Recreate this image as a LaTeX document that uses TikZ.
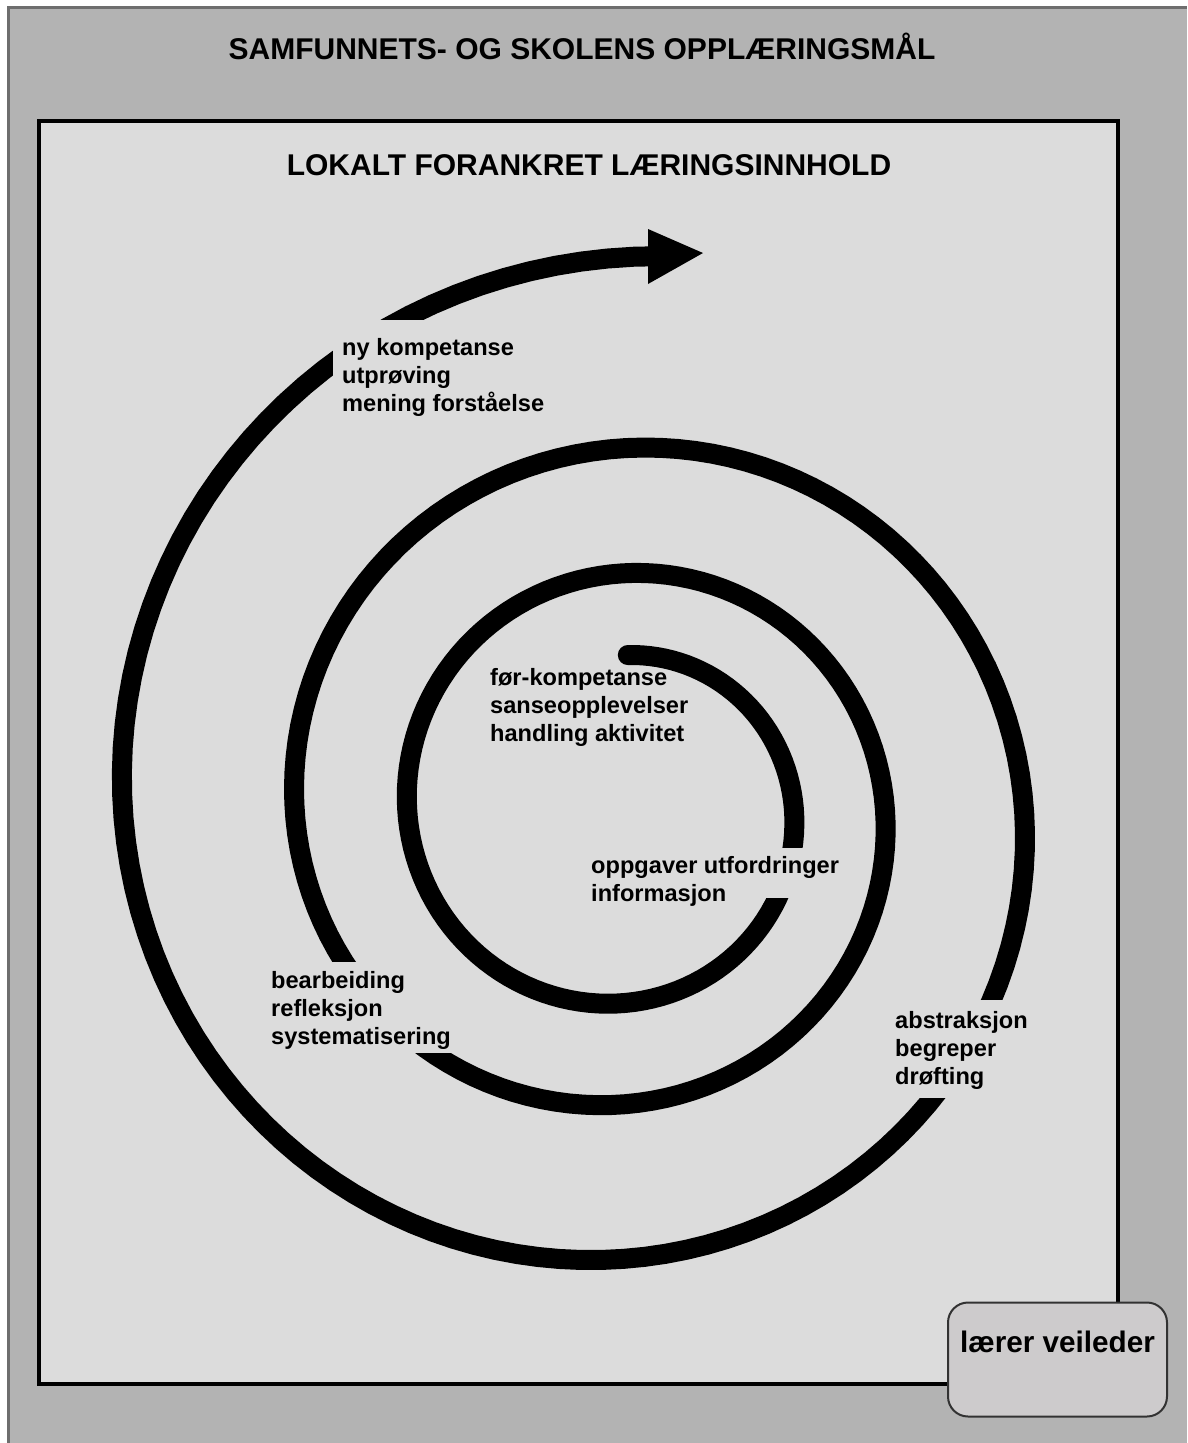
\documentclass[tikz,border=0pt]{standalone}
\usepackage{fontspec}
\setmainfont{Liberation Sans}
\definecolor{outerbg}{RGB}{179,179,179}
\definecolor{innerbg}{RGB}{220,220,220}
\definecolor{boxbg}{RGB}{205,203,204}
\definecolor{frameline}{RGB}{110,110,110}
\definecolor{boxline}{RGB}{50,50,50}
\begin{document}
\begin{tikzpicture}[x=1pt,y=-1pt,
  declare function={sr(\t)=173*exp(-0.0011816*\t);},
  lbl/.style={anchor=base west, inner sep=0pt, align=left, font=\fontsize{23.6}{28}\selectfont\bfseries},
  ttl/.style={anchor=base, inner sep=0pt, font=\fontsize{30}{34}\selectfont\bfseries},
  spiralline/.style={line width=20pt, line cap=round},
  cover/.style={fill=innerbg},
  lvbox/.style={draw=boxline, line width=2pt, fill=boxbg, rounded corners=20pt,
    minimum width=219pt, minimum height=114pt, inner sep=0pt,
    font=\fontsize{29.7}{34}\selectfont\bfseries, text height=22pt, text depth=37pt}]
\useasboundingbox (0,0) rectangle (1187,1443);
\fill[white] (0,0) rectangle (1187,1443);
\fill[outerbg] (8,7) rectangle (1187,1443);
\draw[frameline, line width=3pt] (8,1443) -- (8,7) -- (1187,7);
\draw[black, line width=4pt, fill=innerbg] (39,121) rectangle (1118,1384);
\node[ttl] (outertitle) at (582,59) {SAMFUNNETS- OG SKOLENS OPPLÆRINGSMÅL};
\node[ttl] (innertitle) at (589,175) {LOKALT FORANKRET LÆRINGSINNHOLD};
% spiral
\draw[spiralline] plot[domain=87.5:-994, samples=400] ({621+sr(\x)*cos(\x)},{811-sr(\x)*sin(\x)});
\fill (648,229) -- (703,253) -- (648,284) -- cycle;
% gaps for labels
\fill[cover] (588,848) rectangle (842,898);
\fill[cover] (268,962) rectangle (452,1053);
\fill[cover] (893,1000) rectangle (1030,1098);
\fill[cover] (333,320) rectangle (548,420);
% labels (anchor at baseline of last line)
\node[lbl] (nyk) at (342,411) {ny kompetanse\\utprøving\\mening forståelse};
\node[lbl] (fork) at (490,741) {før-kompetanse\\sanseopplevelser\\handling aktivitet};
\node[lbl] (oppg) at (591,901) {oppgaver utfordringer\\informasjon};
\node[lbl] (bearb) at (271,1044) {bearbeiding\\refleksjon\\systematisering};
\node[lbl] (abstr) at (895,1084) {abstraksjon\\begreper\\drøfting};
\node[lvbox] (lv) at (1057.5,1359.5) {lærer veileder};
\end{tikzpicture}
\end{document}
